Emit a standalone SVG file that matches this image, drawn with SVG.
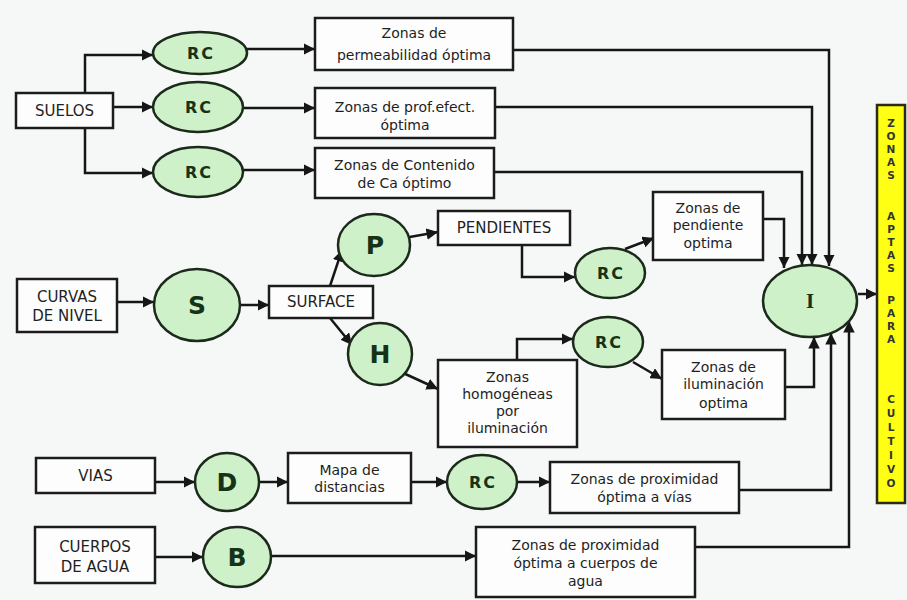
<svg xmlns="http://www.w3.org/2000/svg" width="907" height="600" viewBox="0 0 907 600">
<style>
.bg{fill:#f5f8f6}
.box{fill:#fcfdfc;stroke:#1c1c1c;stroke-width:2.5}
.ell{fill:#cff1c9;stroke:#1b2a1b;stroke-width:2.5}
.t{font-family:"DejaVu Sans",Verdana,sans-serif;font-size:14px;fill:#1f1f1f;text-anchor:middle}
.cap{font-size:15px}
.rc{font-family:"DejaVu Sans",Verdana,sans-serif;font-size:16px;font-weight:bold;fill:#173317;text-anchor:middle;letter-spacing:2px}
.big{font-family:"DejaVu Sans",Verdana,sans-serif;font-size:25px;font-weight:bold;fill:#173317;text-anchor:middle}
.ser{font-family:"Liberation Serif","Times New Roman",serif;font-size:21px;font-weight:bold;fill:#173317;text-anchor:middle}
.bar{fill:#ffff14;stroke:#2a2a1a;stroke-width:2.5}
.bt{font-family:"DejaVu Sans",Verdana,sans-serif;font-size:10.5px;font-weight:bold;fill:#333;text-anchor:middle}
.c{fill:none;stroke:#161616;stroke-width:2.5;marker-end:url(#ah)}
</style>
<defs>
<marker id="ah" viewBox="0 0 10 10" refX="10" refY="5" markerWidth="4.6" markerHeight="4.6" markerUnits="strokeWidth" orient="auto">
<path d="M0,0 L10,5 L0,10 z" fill="#161616"/>
</marker>
</defs>
<rect class="bg" x="0" y="0" width="907" height="600"/>

<g id="connectors">
<path class="c" d="M85,93 V55 H153"/>
<path class="c" d="M113,107 H153"/>
<path class="c" d="M85,128 V173 H153"/>
<path class="c" d="M247,49 H315"/>
<path class="c" d="M243,108 H315"/>
<path class="c" d="M243,170 H315"/>
<path class="c" d="M513,50 H829 V266"/>
<path class="c" d="M495,107 H812 V265"/>
<path class="c" d="M494,172 H802 V265"/>
<path class="c" d="M117,302 H154"/>
<path class="c" d="M240,305 H269"/>
<path class="c" d="M330,286 L342,250"/>
<path class="c" d="M330,318 L352,345"/>
<path class="c" d="M404,238 L438,232"/>
<path class="c" d="M401,372 L438,389"/>
<path class="c" d="M522,245 V277 H575"/>
<path class="c" d="M517,360 V339 H573"/>
<path class="c" d="M625,249 L654,238"/>
<path class="c" d="M633,362 L662,379"/>
<path class="c" d="M763,219 H784 V268"/>
<path class="c" d="M785,387 H814 V337"/>
<path class="c" d="M858,294 H877"/>
<path class="c" d="M155,482 H195"/>
<path class="c" d="M258,482 H288"/>
<path class="c" d="M411,482 H447"/>
<path class="c" d="M517,482 H550"/>
<path class="c" d="M739,490 H831 V333"/>
<path class="c" d="M155,557 H203"/>
<path class="c" d="M272,556 H476"/>
<path class="c" d="M695,547 H849 V321"/>
</g>

<g id="suelos"><rect class="box" x="16" y="93" width="97" height="35"/><text class="t cap" x="64.5" y="116">SUELOS</text></g>
<g id="rc1"><ellipse class="ell" cx="200" cy="53" rx="47" ry="21"/><text class="rc" x="201" y="59">RC</text></g>
<g id="rc2"><ellipse class="ell" cx="198" cy="107" rx="45" ry="25"/><text class="rc" x="199" y="113">RC</text></g>
<g id="rc3"><ellipse class="ell" cx="198" cy="172" rx="45" ry="25"/><text class="rc" x="199" y="178">RC</text></g>
<g id="z-perm"><rect class="box" x="315" y="18" width="198" height="52"/><text class="t" x="414" y="38">Zonas de</text><text class="t" x="414" y="60">permeabilidad óptima</text></g>
<g id="z-prof"><rect class="box" x="315" y="88" width="180" height="50"/><text class="t" x="405" y="112">Zonas de prof.efect.</text><text class="t" x="405" y="130">óptima</text></g>
<g id="z-ca"><rect class="box" x="315" y="148" width="179" height="50"/><text class="t" x="404.5" y="170">Zonas de Contenido</text><text class="t" x="404.5" y="188">de Ca óptimo</text></g>

<g id="curvas"><rect class="box" x="17" y="279" width="100" height="53"/><text class="t cap" x="67" y="302">CURVAS</text><text class="t cap" x="67" y="321">DE NIVEL</text></g>
<g id="s"><ellipse class="ell" cx="197" cy="305" rx="43" ry="36"/><text class="big" x="197" y="314">S</text></g>
<g id="surface"><rect class="box" x="269" y="286" width="104" height="32"/><text class="t cap" x="321" y="307">SURFACE</text></g>
<g id="p"><ellipse class="ell" cx="374" cy="245" rx="36" ry="31"/><text class="big" x="375" y="254">P</text></g>
<g id="h"><ellipse class="ell" cx="380" cy="354" rx="32" ry="31"/><text class="big" x="380" y="363">H</text></g>
<g id="pendientes"><rect class="box" x="438" y="211" width="132" height="34"/><text class="t cap" x="504" y="233">PENDIENTES</text></g>
<g id="homog"><rect class="box" x="438" y="360" width="139" height="87"/><text class="t" x="507.5" y="382">Zonas</text><text class="t" x="507.5" y="399">homogéneas</text><text class="t" x="507.5" y="416">por</text><text class="t" x="507.5" y="433">iluminación</text></g>
<g id="rc4"><ellipse class="ell" cx="610" cy="273" rx="35" ry="25"/><text class="rc" x="611" y="279">RC</text></g>
<g id="rc5"><ellipse class="ell" cx="608" cy="342" rx="35" ry="25"/><text class="rc" x="609" y="348">RC</text></g>
<g id="z-pend"><rect class="box" x="653" y="192" width="110" height="68"/><text class="t" x="708" y="213">Zonas de</text><text class="t" x="708" y="230">pendiente</text><text class="t" x="708" y="248">optima</text></g>
<g id="z-ilum"><rect class="box" x="662" y="350" width="123" height="69"/><text class="t" x="723.5" y="372">Zonas de</text><text class="t" x="723.5" y="389">iluminación</text><text class="t" x="723.5" y="408">optima</text></g>
<g id="i"><ellipse class="ell" cx="810" cy="301" rx="47" ry="36"/><text class="ser" x="810" y="308">I</text></g>
<g id="zonas-aptas"><rect class="bar" x="877" y="105" width="28" height="398"/>
<text class="bt"><tspan x="891" y="127">Z</tspan><tspan x="891" y="140">O</tspan><tspan x="891" y="153">N</tspan><tspan x="891" y="166">A</tspan><tspan x="891" y="179">S</tspan><tspan x="891" y="220">A</tspan><tspan x="891" y="233">P</tspan><tspan x="891" y="246">T</tspan><tspan x="891" y="259">A</tspan><tspan x="891" y="272">S</tspan><tspan x="891" y="304">P</tspan><tspan x="891" y="317">A</tspan><tspan x="891" y="330">R</tspan><tspan x="891" y="343">A</tspan><tspan x="891" y="403">C</tspan><tspan x="891" y="417">U</tspan><tspan x="891" y="431">L</tspan><tspan x="891" y="445">T</tspan><tspan x="891" y="459">I</tspan><tspan x="891" y="473">V</tspan><tspan x="891" y="487">O</tspan></text></g>

<g id="vias"><rect class="box" x="36" y="458" width="119" height="35"/><text class="t cap" x="95.5" y="481">VIAS</text></g>
<g id="d"><ellipse class="ell" cx="227" cy="482" rx="32" ry="29"/><text class="big" x="227" y="491">D</text></g>
<g id="mapa"><rect class="box" x="288" y="453" width="123" height="50"/><text class="t" x="349.5" y="475">Mapa de</text><text class="t" x="349.5" y="492">distancias</text></g>
<g id="rc6"><ellipse class="ell" cx="482" cy="482" rx="35" ry="27"/><text class="rc" x="483" y="488">RC</text></g>
<g id="z-vias"><rect class="box" x="550" y="462" width="189" height="51"/><text class="t" x="644.5" y="484">Zonas de proximidad</text><text class="t" x="644.5" y="502">óptima a vías</text></g>
<g id="cuerpos"><rect class="box" x="35" y="527" width="120" height="56"/><text class="t cap" x="95" y="552">CUERPOS</text><text class="t cap" x="95" y="572">DE AGUA</text></g>
<g id="b"><ellipse class="ell" cx="237" cy="557" rx="34" ry="30"/><text class="big" x="237" y="566">B</text></g>
<g id="z-agua"><rect class="box" x="476" y="527" width="219" height="70"/><text class="t" x="585.5" y="550">Zonas de proximidad</text><text class="t" x="585.5" y="568">óptima a cuerpos de</text><text class="t" x="585.5" y="586">agua</text></g>
</svg>
